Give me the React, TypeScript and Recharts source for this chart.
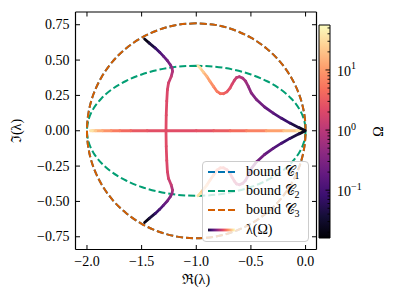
import { ComposedChart, Line, XAxis, YAxis, ReferenceArea } from 'recharts'

const FONT = '"Liberation Serif", "DejaVu Serif", serif'
const TICK = 4.5

// bound ellipses, listed from the top of the ellipse going round to the left
const boundX = [-1.0, -1.174, -1.342, -1.5, -1.643, -1.766, -1.866, -1.94, -1.985, -2.0, -1.985, -1.94, -1.866, -1.766, -1.643, -1.5, -1.342, -1.174, -1.0, -0.826, -0.658, -0.5, -0.357, -0.234, -0.134, -0.06, -0.015, 0, -0.015, -0.06, -0.134, -0.234, -0.357, -0.5, -0.658, -0.826, -1.0]
const c2Y = [0.46, 0.453, 0.432, 0.398, 0.352, 0.296, 0.23, 0.157, 0.08, 0, -0.08, -0.157, -0.23, -0.296, -0.352, -0.398, -0.432, -0.453, -0.46, -0.453, -0.432, -0.398, -0.352, -0.296, -0.23, -0.157, -0.08, 0, 0.08, 0.157, 0.23, 0.296, 0.352, 0.398, 0.432, 0.453, 0.46]
const c3Y = [0.76, 0.749, 0.714, 0.658, 0.582, 0.489, 0.38, 0.26, 0.132, 0, -0.132, -0.26, -0.38, -0.489, -0.582, -0.658, -0.714, -0.749, -0.76, -0.749, -0.714, -0.658, -0.582, -0.489, -0.38, -0.26, -0.132, 0, 0.132, 0.26, 0.38, 0.489, 0.582, 0.658, 0.714, 0.749, 0.76]

// λ(Ω) branches: x = Re, y = Im, w = Ω
const bUpX = [-1.473, -1.43, -1.375, -1.335, -1.299, -1.265, -1.238, -1.222, -1.217, -1.229, -1.254, -1.264, -1.27, -1.275, -1.277]
const bUpY = [0.649, 0.62, 0.585, 0.556, 0.526, 0.497, 0.467, 0.445, 0.42, 0.384, 0.338, 0.29, 0.21, 0.11, 0.0]
const bLoX = [-1.473, -1.43, -1.375, -1.335, -1.299, -1.265, -1.238, -1.222, -1.217, -1.229, -1.254, -1.264, -1.27, -1.275, -1.277]
const bLoY = [-0.649, -0.62, -0.585, -0.556, -0.526, -0.497, -0.467, -0.445, -0.42, -0.384, -0.338, -0.29, -0.21, -0.11, 0.0]
const bW = [0.016, 0.03, 0.058, 0.1, 0.16, 0.23, 0.31, 0.45, 0.65, 1.15, 1.6, 1.9, 2.1, 2.25, 2.3]

const realLeftX = [-1.277, -1.45, -1.6, -1.7, -1.78, -1.86, -1.92, -1.95, -1.969]
const realLeftY = [0, 0, 0, 0, 0, 0, 0, 0, 0]
const realLeftW = [2.3, 2.6, 3.4, 4.9, 7.3, 11, 18, 28, 45]
const realRightX = [-1.277, -1.0, -0.84, -0.69, -0.54, -0.36, -0.2, -0.08, -0.027]
const realRightY = [0, 0, 0, 0, 0, 0, 0, 0, 0]
const realRightW = [2.3, 2.4, 2.8, 3.6, 5.4, 8.5, 15, 28, 45]

const cUpX = [-0.005, -0.06, -0.143, -0.22, -0.296, -0.375, -0.447, -0.497, -0.524, -0.548, -0.575, -0.606, -0.632, -0.652, -0.672, -0.691, -0.72, -0.752, -0.78, -0.81, -0.843, -0.875, -0.903, -0.935, -0.964, -0.985]
const cUpY = [0.002, 0.022, 0.054, 0.088, 0.125, 0.168, 0.219, 0.268, 0.314, 0.35, 0.372, 0.382, 0.376, 0.356, 0.33, 0.302, 0.275, 0.262, 0.262, 0.278, 0.314, 0.35, 0.384, 0.415, 0.444, 0.46]
const cLoX = [-0.005, -0.06, -0.143, -0.22, -0.296, -0.375, -0.447, -0.497, -0.524, -0.548, -0.575, -0.606, -0.632, -0.652, -0.672, -0.691, -0.72, -0.752, -0.78, -0.81, -0.843, -0.875, -0.903, -0.935, -0.964, -0.985]
const cLoY = [-0.002, -0.022, -0.054, -0.088, -0.125, -0.168, -0.219, -0.268, -0.314, -0.35, -0.372, -0.382, -0.376, -0.356, -0.33, -0.302, -0.275, -0.262, -0.262, -0.278, -0.314, -0.35, -0.384, -0.415, -0.444, -0.46]
const cW = [0.016, 0.033, 0.058, 0.1, 0.15, 0.21, 0.29, 0.37, 0.48, 0.58, 0.72, 0.9, 1.15, 1.45, 1.8, 2.2, 2.8, 3.6, 4.3, 5.3, 7.3, 9.5, 13, 18, 29, 42]

const xTicks = [-2, -1.5, -1, -0.5, 0]
const yTicks = [-0.75, -0.5, -0.25, 0, 0.25, 0.5, 0.75]
const cbarMajor = [0.1, 1, 10]
const cbarMinor = [0.02, 0.03, 0.04, 0.05, 0.06, 0.07, 0.08, 0.09, 0.2, 0.3, 0.4, 0.5, 0.6, 0.7, 0.8, 0.9, 2, 3, 4, 5, 6, 7, 8, 9, 20, 30, 40, 50]
const cbarLabels: Record<string, string> = { '0.1': '\u22121', '1': '0', '10': '1' }

const OMEGA_MIN = 0.016
const OMEGA_MAX = 56

const MAGMA = ['#000004', '#140e36', '#3b0f70', '#641a80', '#8c2981', '#b73779', '#de4968', '#f7705c', '#fe9f6d', '#fecf92', '#fcfdbf']

function magma(t: number) {
  const c = Math.max(0, Math.min(1, t)) * (MAGMA.length - 1)
  const i = Math.min(Math.floor(c), MAGMA.length - 2)
  const f = c - i
  const a = MAGMA[i], b = MAGMA[i + 1]
  const ch = (s: string, k: number) => parseInt(s.slice(1 + 2 * k, 3 + 2 * k), 16)
  const mix = [0, 1, 2].map((k) => Math.round(ch(a, k) + (ch(b, k) - ch(a, k)) * f))
  return `rgb(${mix[0]},${mix[1]},${mix[2]})`
}

const omegaColor = (w: number) =>
  magma((Math.log10(w) - Math.log10(OMEGA_MIN)) / (Math.log10(OMEGA_MAX) - Math.log10(OMEGA_MIN)))

function segments(xs: number[], ys: number[], ws: number[]) {
  const out: { data: { x: number; y: number }[]; color: string }[] = []
  for (let i = 0; i < xs.length - 1; i++) {
    out.push({
      data: [{ x: xs[i], y: ys[i] }, { x: xs[i + 1], y: ys[i + 1] }],
      color: omegaColor(Math.sqrt(ws[i] * ws[i + 1])),
    })
  }
  return out
}

const lambdaSegs = [
  ...segments(realLeftX, realLeftY, realLeftW),
  ...segments(realRightX, realRightY, realRightW),
  ...segments(bUpX, bUpY, bW),
  ...segments(bLoX, bLoY, bW),
  ...segments(cUpX, cUpY, cW),
  ...segments(cLoX, cLoY, cW),
]

const c2Data = boundX.map((x, i) => ({ x, y: c2Y[i] }))
const c3Data = boundX.map((x, i) => ({ x, y: c3Y[i] }))

const fmt = (v: number, d: number) => v.toFixed(d).replace('-', '\u2212')

const textProps = { fontFamily: FONT, fontSize: 14, fill: '#000' }

function BottomTick(p: any) {
  const { x, y, payload } = p
  return (
    <g>
      <line x1={x} y1={y} x2={x} y2={y - TICK} stroke="#000" strokeWidth={1} />
      <text x={x} y={y + 16.5} textAnchor="middle" {...textProps}>{fmt(payload.value, 1)}</text>
    </g>
  )
}
function TopTick(p: any) {
  const { x, y } = p
  return <line x1={x} y1={y} x2={x} y2={y + TICK} stroke="#000" strokeWidth={1} />
}
function LeftTick(p: any) {
  const { x, y, payload } = p
  return (
    <g>
      <line x1={x} y1={y} x2={x + TICK} y2={y} stroke="#000" strokeWidth={1} />
      <text x={x - 6} y={y + 4.6} textAnchor="end" {...textProps}>{fmt(payload.value, 2)}</text>
    </g>
  )
}
function RightTick(p: any) {
  const { x, y } = p
  return <line x1={x} y1={y} x2={x - TICK} y2={y} stroke="#000" strokeWidth={1} />
}
function CbarTick(p: any) {
  const { x, y, payload } = p
  const lab = cbarLabels[String(payload.value)]
  return (
    <g>
      <line x1={x} y1={y} x2={x - (lab ? 4.5 : 2.5)} y2={y} stroke="#000" strokeWidth={0.9} />
      {lab && (
        <text x={x + 7} y={y + 6} {...textProps}>
          10<tspan dy={-6.5} fontSize={10}>{lab}</tspan>
        </text>
      )}
    </g>
  )
}

const legendRows = [
  { label: '1', color: '#0173b2', top: 170.7 },
  { label: '2', color: '#029e73', top: 190 },
  { label: '3', color: '#d55e00', top: 209.3 },
]

export default function App() {
  const axisLine = { stroke: '#000', strokeWidth: 1.2 }
  return (
    <div style={{ position: 'absolute', left: 0, top: 0, width: 398, height: 301, background: '#fff' }}>
      <div style={{ position: 'absolute', left: 0, top: 0 }}>
        <ComposedChart width={398} height={301} margin={{ top: 11, right: 80.5, bottom: 50.5, left: 74.5 }}>
          <XAxis
            xAxisId="b" dataKey="x" type="number" domain={[-2.105, 0.1]} allowDataOverflow
            ticks={xTicks} height={1} tickSize={0} tickMargin={0} axisLine={axisLine} tickLine={false}
            tick={BottomTick} interval={0}
            label={{ content: () => <text x={196} y={284} textAnchor="middle" {...textProps}>ℜ(λ)</text> }}
          />
          <XAxis
            xAxisId="t" orientation="top" dataKey="x" type="number" domain={[-2.105, 0.1]} allowDataOverflow
            ticks={xTicks} height={1} tickSize={0} tickMargin={0} axisLine={axisLine} tickLine={false}
            tick={TopTick} interval={0}
          />
          <YAxis
            yAxisId="l" type="number" domain={[-0.84, 0.84]} allowDataOverflow ticks={yTicks}
            width={1} tickSize={0} tickMargin={0} axisLine={axisLine} tickLine={false} tick={LeftTick} interval={0}
            label={{ content: () => <text x={20.5} y={131} textAnchor="middle" transform="rotate(-90 20.5 131)" {...textProps}>ℑ(λ)</text> }}
          />
          <YAxis
            yAxisId="r" orientation="right" type="number" domain={[-0.84, 0.84]} allowDataOverflow ticks={yTicks}
            width={1} tickSize={0} tickMargin={0} axisLine={axisLine} tickLine={false} tick={RightTick} interval={0}
          />
          <Line xAxisId="b" yAxisId="l" data={c3Data} dataKey="y" type="natural" stroke="#0173b2" strokeWidth={2} strokeDasharray="7 3" dot={false} isAnimationActive={false} />
          <Line xAxisId="b" yAxisId="l" data={c2Data} dataKey="y" type="natural" stroke="#029e73" strokeWidth={2} strokeDasharray="7 3" dot={false} isAnimationActive={false} />
          <Line xAxisId="b" yAxisId="l" data={c3Data} dataKey="y" type="natural" stroke="#d55e00" strokeWidth={2} strokeDasharray="7 3" dot={false} isAnimationActive={false} />
          {lambdaSegs.map((s, i) => (
            <Line
              key={'seg' + i} xAxisId="b" yAxisId="l" data={s.data} dataKey="y" type="linear"
              stroke={s.color} strokeWidth={2.8} strokeLinecap="round" dot={false} isAnimationActive={false}
            />
          ))}
        </ComposedChart>
      </div>
      <div style={{ position: 'absolute', left: 0, top: 0 }}>
        <ComposedChart width={398} height={301} margin={{ top: 25, right: 67, bottom: 63, left: 319 }} data={[{ x: 0, w: 1 }]}>
          <defs>
            <linearGradient id="magmaBar" x1="0" y1="1" x2="0" y2="0">
              {MAGMA.map((c, i) => <stop key={c} offset={i / (MAGMA.length - 1)} stopColor={c} />)}
            </linearGradient>
          </defs>
          <XAxis dataKey="x" type="number" domain={[0, 1]} hide />
          <YAxis
            orientation="right" type="number" scale="log" domain={[OMEGA_MIN, OMEGA_MAX]} allowDataOverflow
            ticks={[...cbarMinor, ...cbarMajor]} width={1} tickSize={0} tickMargin={0} axisLine={false} tickLine={false}
            tick={CbarTick} interval={0}
            label={{ content: () => <text x={383} y={131.5} textAnchor="middle" transform="rotate(-90 383 131.5)" {...textProps}>Ω</text> }}
          />
          <ReferenceArea y1={OMEGA_MIN} y2={OMEGA_MAX} fill="url(#magmaBar)" fillOpacity={1} stroke="#000" strokeWidth={1} ifOverflow="visible" />
        </ComposedChart>
      </div>
      <div
        style={{
          position: 'absolute', left: 202, top: 161, width: 107, height: 81, boxSizing: 'border-box',
          border: '1px solid #cccccc', borderRadius: 4, background: 'rgba(255,255,255,0.8)',
          fontFamily: FONT, fontSize: 14, color: '#000',
        }}
      >
        {legendRows.map((r) => (
          <div key={r.label} style={{ position: 'absolute', left: 0, top: r.top - 161 - 9, height: 18, width: 107 }}>
            <svg width={32} height={18} style={{ position: 'absolute', left: 4, top: 0 }}>
              <line x1={1} y1={9} x2={28} y2={9} stroke={r.color} strokeWidth={2} strokeDasharray="7 3" />
            </svg>
            <span style={{ position: 'absolute', left: 43, top: 0, lineHeight: '18px', whiteSpace: 'nowrap' }}>
              bound 𝒞<sub style={{ fontSize: 10, verticalAlign: '-3px', lineHeight: 0 }}>{r.label}</sub>
            </span>
          </div>
        ))}
        <div style={{ position: 'absolute', left: 0, top: 229.3 - 161 - 9, height: 18, width: 107 }}>
          <svg width={32} height={18} style={{ position: 'absolute', left: 4, top: 0 }}>
            <defs>
              <linearGradient id="magmaLeg" x1="0" y1="0" x2="1" y2="0">
                {MAGMA.slice(1).map((c, i) => <stop key={c} offset={i / (MAGMA.length - 2)} stopColor={c} />)}
              </linearGradient>
            </defs>
            <rect x={1} y={7.6} width={27} height={2.8} fill="url(#magmaLeg)" />
          </svg>
          <span style={{ position: 'absolute', left: 43, top: 0, lineHeight: '18px', whiteSpace: 'nowrap' }}>λ(Ω)</span>
        </div>
      </div>
    </div>
  )
}
